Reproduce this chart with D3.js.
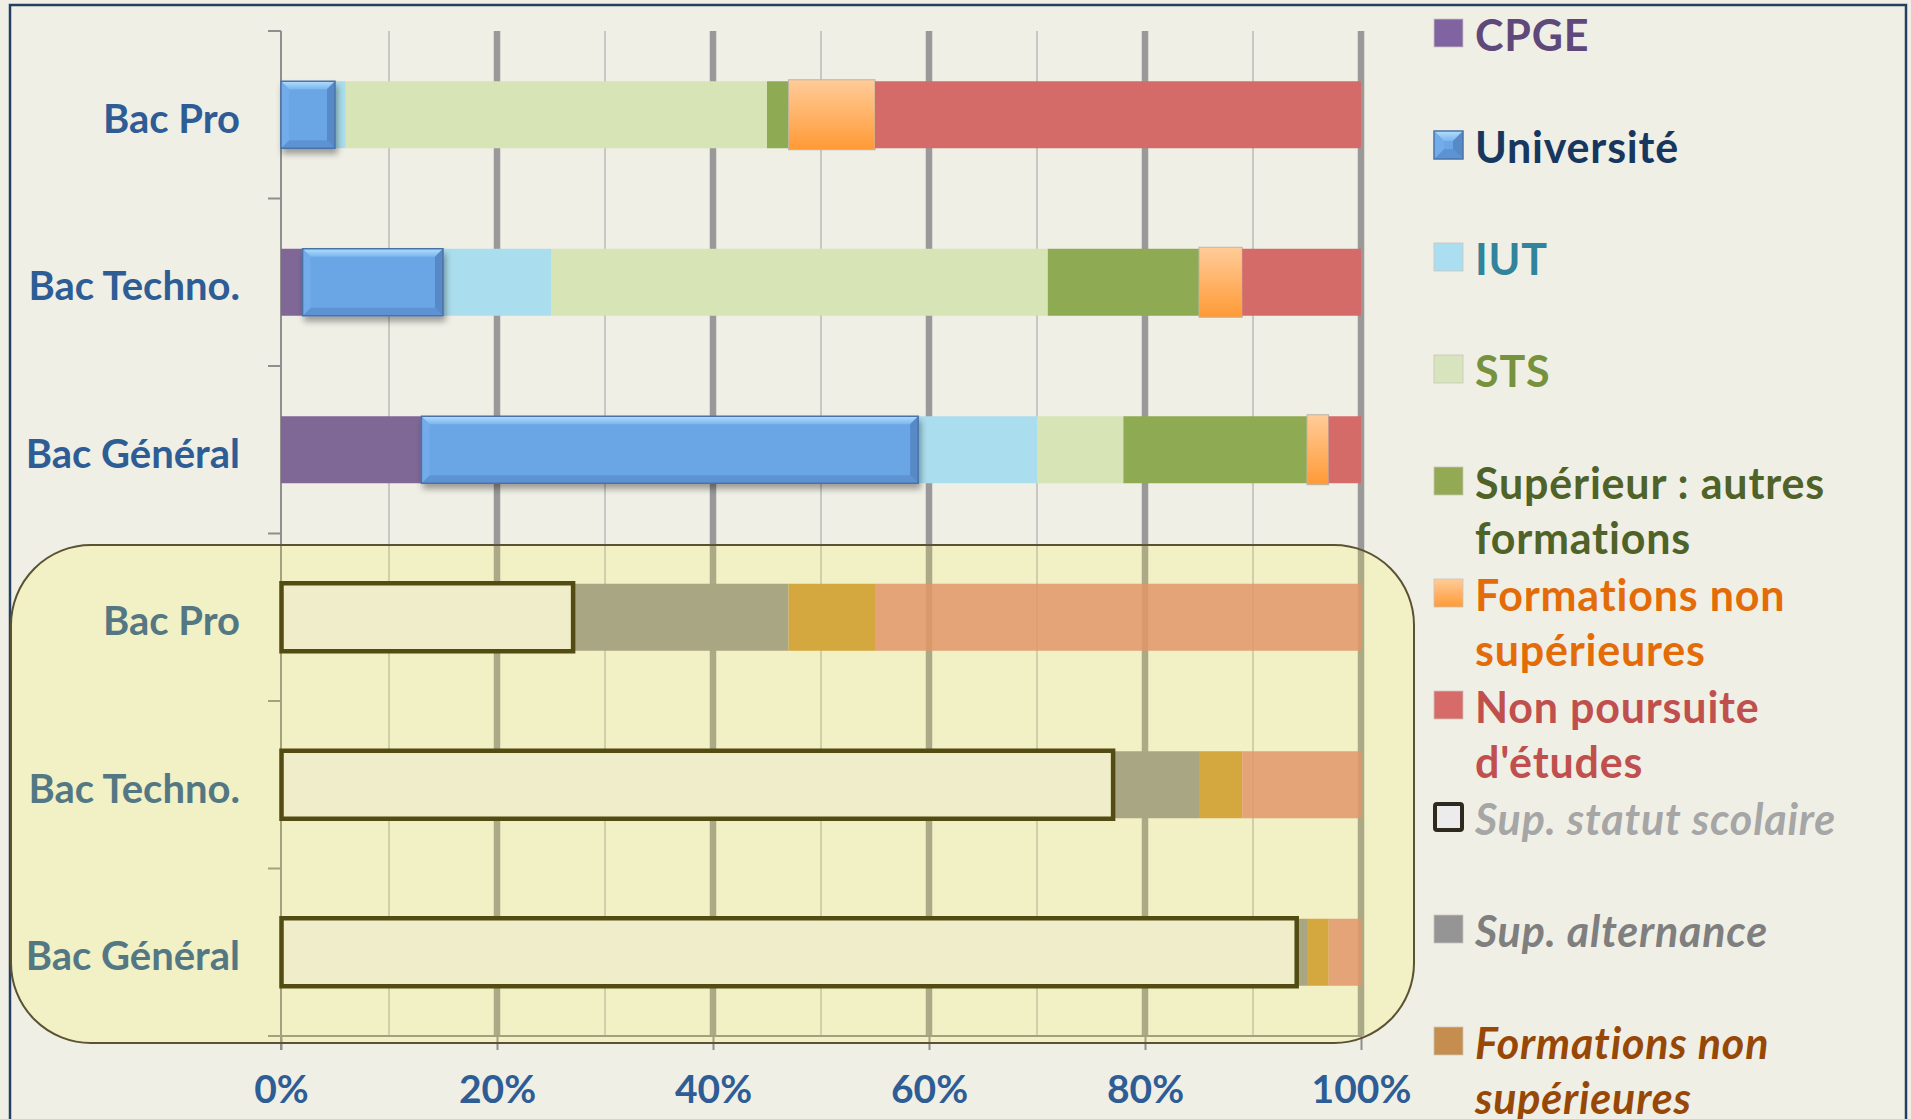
<!DOCTYPE html>
<html>
<head>
<meta charset="utf-8">
<script src="https://cdn.jsdelivr.net/npm/d3@7"></script>
<style>
  html, body { margin: 0; padding: 0; background: #f0efe6; overflow: hidden; }
  svg { display: block; }
  text { font-family: Lato, "Open Sans", sans-serif; font-weight: 700; }
</style>
</head>
<body>
<svg id="chart" width="1911" height="1119"></svg>
<script>
// ---------- DATA ----------
const categories = ["Bac Pro", "Bac Techno.", "Bac Général"];

// Top block: destination after the bac (share, %)
const topSeries = ["CPGE", "Université", "IUT", "STS", "Supérieur : autres formations", "Formations non supérieures", "Non poursuite d'études"];
const cpge         = [0, 2, 13];
const universite   = [5, 13, 46];
const iut          = [1, 10, 11];
const sts          = [39, 46, 8];
const autresSup    = [2, 14, 17];
const formNonSup   = [8, 4, 2];
const nonPoursuite = [45, 11, 3];

// Bottom block (highlighted): status of studies
const bottomSeries = ["Sup. statut scolaire", "Sup. alternance", "Formations non supérieures (bas)", "Non poursuite (bas)"];
const statutScolaire     = [27, 77, 94];
const alternance         = [20, 8, 1];
const formNonSupBas      = [8, 4, 2];
const nonPoursuiteBas    = [45, 11, 3];

const xTicks = [0, 20, 40, 60, 80, 100];
const xMinor = [10, 30, 50, 70, 90];

const legendLabels = [
  ["CPGE"],
  ["Université"],
  ["IUT"],
  ["STS"],
  ["Supérieur : autres", "formations"],
  ["Formations non", "supérieures"],
  ["Non poursuite", "d'études"],
  ["Sup. statut scolaire"],
  ["Sup. alternance"],
  ["Formations non", "supérieures"]
];

// ---------- STYLE ----------
const topColors = ["#7f6896", "#6ba6e6", "#aadded", "#d6e4b6", "#8eaa52", "url(#gradOrange)", "#d46b69"];
const bottomColors = ["#ececec", "#959595", "#cb9842", "#da8276"];
const legendMarkers = ["#8064a2", "univ", "#abdef0", "#d7e4bd", "#93a953", "url(#gradOrange)", "#d76b69", "scol", "#959595", "#c58e4e"];
const legendTextColors = ["#5f497a", "#17375e", "#31849b", "#76923c", "#4f6228", "#e36c09", "#c0504d", "#a6a6a6", "#7f7f7f", "#974806"];
const legendItalic = [false, false, false, false, false, false, false, true, true, true];

// ---------- LAYOUT ----------
const svg = d3.select("#chart");
const plotLeft = 281, plotRight = 1361, plotTop = 31, plotBottom = 1036;

const rows = ["t0", "t1", "t2", "b0", "b1", "b2"];
const rowLabel = {t0: categories[0], t1: categories[1], t2: categories[2], b0: categories[0], b1: categories[1], b2: categories[2]};

const x = d3.scaleLinear().domain([0, 100]).range([plotLeft, plotRight]);
const y = d3.scaleBand().domain(rows).range([plotTop, plotBottom]).paddingInner(0.6).paddingOuter(0.3);

// defs
const defs = svg.append("defs");
const g1 = defs.append("linearGradient").attr("id", "gradOrange").attr("x1", 0).attr("y1", 0).attr("x2", 0).attr("y2", 1);
g1.append("stop").attr("offset", "0%").attr("stop-color", "#ffcc99");
g1.append("stop").attr("offset", "100%").attr("stop-color", "#ff9a36");
const g2 = defs.append("linearGradient").attr("id", "gradBevelTop").attr("x1", 0).attr("y1", 0).attr("x2", 0).attr("y2", 1);
g2.append("stop").attr("offset", "0%").attr("stop-color", "#b2defd");
g2.append("stop").attr("offset", "100%").attr("stop-color", "#7ab6ef");
const sh = defs.append("filter").attr("id", "shadow").attr("x", "-10%").attr("y", "-10%").attr("width", "130%").attr("height", "150%");
sh.append("feDropShadow").attr("dx", 2).attr("dy", 5).attr("stdDeviation", 3).attr("flood-color", "#000").attr("flood-opacity", 0.35);

// outer frame
svg.append("rect").attr("x", 10).attr("y", 5).attr("width", 1896).attr("height", 1130)
  .attr("fill", "#f0efe6").attr("stroke", "#243f60").attr("stroke-width", 2.5);

// gridlines
const grid = svg.append("g");
grid.selectAll("line.minor").data(xMinor).join("line")
  .attr("x1", d => x(d)).attr("x2", d => x(d)).attr("y1", plotTop).attr("y2", plotBottom)
  .attr("stroke", "#c7c7c4").attr("stroke-width", 2);
grid.selectAll("line.major").data(xTicks.filter(d => d > 0)).join("line")
  .attr("x1", d => x(d)).attr("x2", d => x(d)).attr("y1", plotTop).attr("y2", plotBottom)
  .attr("stroke", "#999999").attr("stroke-width", 6.5);

// x axis (bottom)
const xAxis = d3.axisBottom(x).tickValues(xTicks).tickSize(14).tickPadding(24).tickFormat(d => d + "%");
const gx = svg.append("g").attr("transform", `translate(0,${plotBottom})`).call(xAxis);
gx.select(".domain").attr("stroke", "#8f8f8f").attr("stroke-width", 2).attr("d", `M${plotLeft - 13},0H${plotRight}`);
gx.selectAll(".tick line").attr("stroke", "#8f8f8f").attr("stroke-width", 2);
gx.selectAll(".tick text").attr("fill", "#2e5d95").attr("font-size", 39).attr("font-family", "Lato").attr("font-weight", 700).attr("dy", "0.74em");

// y axis line and boundary ticks
const yBounds = d3.range(rows.length + 1).map(i => plotTop + i * (plotBottom - plotTop) / rows.length);
svg.append("line").attr("x1", plotLeft).attr("x2", plotLeft).attr("y1", plotTop).attr("y2", plotBottom + 14)
  .attr("stroke", "#8f8f8f").attr("stroke-width", 2);
svg.append("g").selectAll("line").data(yBounds).join("line")
  .attr("x1", plotLeft - 13).attr("x2", plotLeft).attr("y1", d => d).attr("y2", d => d)
  .attr("stroke", "#8f8f8f").attr("stroke-width", 2);

// category labels
svg.append("g").selectAll("text").data(rows).join("text")
  .attr("x", plotLeft - 41).attr("y", d => y(d) + y.bandwidth() / 2)
  .attr("dy", "0.45em").attr("text-anchor", "end")
  .attr("font-size", 40).attr("fill", "#2e5d95")
  .text(d => rowLabel[d]);

// ---------- TOP BARS ----------
const topTable = categories.map((c, i) => ({
  row: "t" + i,
  "CPGE": cpge[i], "Université": universite[i], "IUT": iut[i], "STS": sts[i],
  "Supérieur : autres formations": autresSup[i], "Formations non supérieures": formNonSup[i],
  "Non poursuite d'études": nonPoursuite[i]
}));
const topStack = d3.stack().keys(topSeries)(topTable);

function bevelRect(g, x0, y0, w, h, b) {
  const x1 = x0 + w, y1 = y0 + h;
  g.append("rect").attr("x", x0).attr("y", y0).attr("width", w).attr("height", h).attr("fill", "#6ba6e6");
  g.append("polygon").attr("points", `${x0},${y0} ${x1},${y0} ${x1 - b},${y0 + b} ${x0 + b},${y0 + b}`).attr("fill", "url(#gradBevelTop)");
  g.append("polygon").attr("points", `${x0},${y1} ${x1},${y1} ${x1 - b},${y1 - b} ${x0 + b},${y1 - b}`).attr("fill", "#5d93d3");
  g.append("polygon").attr("points", `${x0},${y0} ${x0 + b},${y0 + b} ${x0 + b},${y1 - b} ${x0},${y1}`).attr("fill", "#72acea");
  g.append("polygon").attr("points", `${x1},${y0} ${x1 - b},${y0 + b} ${x1 - b},${y1 - b} ${x1},${y1}`).attr("fill", "#5789c6");
  g.append("rect").attr("x", x0).attr("y", y0).attr("width", w).attr("height", h).attr("fill", "none").attr("stroke", "#4a73a8").attr("stroke-width", 1.5);
}

const topG = svg.append("g");
topStack.forEach((layer, si) => {
  layer.forEach(d => {
    const w = x(d[1]) - x(d[0]);
    if (w <= 0) return;
    const row = d.data.row;
    const key = layer.key;
    if (key === "Université") {
      const g = topG.append("g").attr("filter", "url(#shadow)");
      bevelRect(g, x(d[0]), y(row), w, y.bandwidth(), 8);
    } else if (key === "Formations non supérieures") {
      topG.append("rect").attr("x", x(d[0])).attr("y", y(row) - 1.5).attr("width", w).attr("height", y.bandwidth() + 3)
        .attr("fill", topColors[si]).attr("stroke", "#bdb5a2").attr("stroke-width", 1);
    } else {
      topG.append("rect").attr("x", x(d[0])).attr("y", y(row)).attr("width", w).attr("height", y.bandwidth())
        .attr("fill", topColors[si]);
    }
  });
});
topG.selectAll("g").raise();

// ---------- BOTTOM BARS ----------
const bottomTable = categories.map((c, i) => ({
  row: "b" + i,
  "Sup. statut scolaire": statutScolaire[i], "Sup. alternance": alternance[i],
  "Formations non supérieures (bas)": formNonSupBas[i], "Non poursuite (bas)": nonPoursuiteBas[i]
}));
const bottomStack = d3.stack().keys(bottomSeries)(bottomTable);
const botG = svg.append("g");
bottomStack.forEach((layer, si) => {
  botG.append("g").selectAll("rect").data(layer).join("rect")
    .attr("x", d => x(d[0])).attr("y", d => y(d.data.row))
    .attr("width", d => x(d[1]) - x(d[0])).attr("height", y.bandwidth())
    .attr("fill", bottomColors[si])
    .attr("fill-opacity", si === 3 ? 0.85 : 1);
});
// thick outline of the "statut scolaire" bars
botG.append("g").selectAll("rect").data(bottomStack[0]).join("rect")
  .attr("x", d => x(d[0]) + 0.5).attr("y", d => y(d.data.row) - 0.5)
  .attr("width", d => x(d[1]) - x(d[0])).attr("height", y.bandwidth() + 1)
  .attr("fill", "none").attr("stroke", "#2c270b").attr("stroke-width", 4.5);

// ---------- HIGHLIGHT OVERLAY ----------
svg.append("rect").attr("x", 11).attr("y", 545).attr("width", 1403).attr("height", 498).attr("rx", 80).attr("ry", 80)
  .attr("fill", "rgb(255,245,48)").attr("fill-opacity", 0.18)
  .attr("stroke", "#5b5233").attr("stroke-width", 2);

// ---------- LEGEND ----------
const lg = svg.append("g");
legendLabels.forEach((lines, i) => {
  const top = 19 + 112 * i;
  const m = legendMarkers[i];
  if (m === "univ") {
    bevelRect(lg.append("g"), 1434, top, 29, 28, 10);
  } else if (m === "scol") {
    lg.append("rect").attr("x", 1435).attr("y", top + 1).attr("width", 27).attr("height", 26).attr("rx", 2)
      .attr("fill", "#ececec").attr("stroke", "#2e2a1e").attr("stroke-width", 4);
  } else {
    lg.append("rect").attr("x", 1434).attr("y", top).attr("width", 29).attr("height", 28)
      .attr("fill", m).attr("stroke", "#c9c6bb").attr("stroke-width", 0.8);
  }
  const t = lg.append("text").attr("x", 1475).attr("y", top + 32)
    .attr("font-size", 43).attr("letter-spacing", 0.8).attr("fill", legendTextColors[i])
    .attr("font-style", legendItalic[i] ? "italic" : "normal");
  lines.forEach((ln, j) => {
    t.append("tspan").attr("x", 1475).attr("dy", j === 0 ? 0 : 55).text(ln);
  });
});
</script>
</body>
</html>
